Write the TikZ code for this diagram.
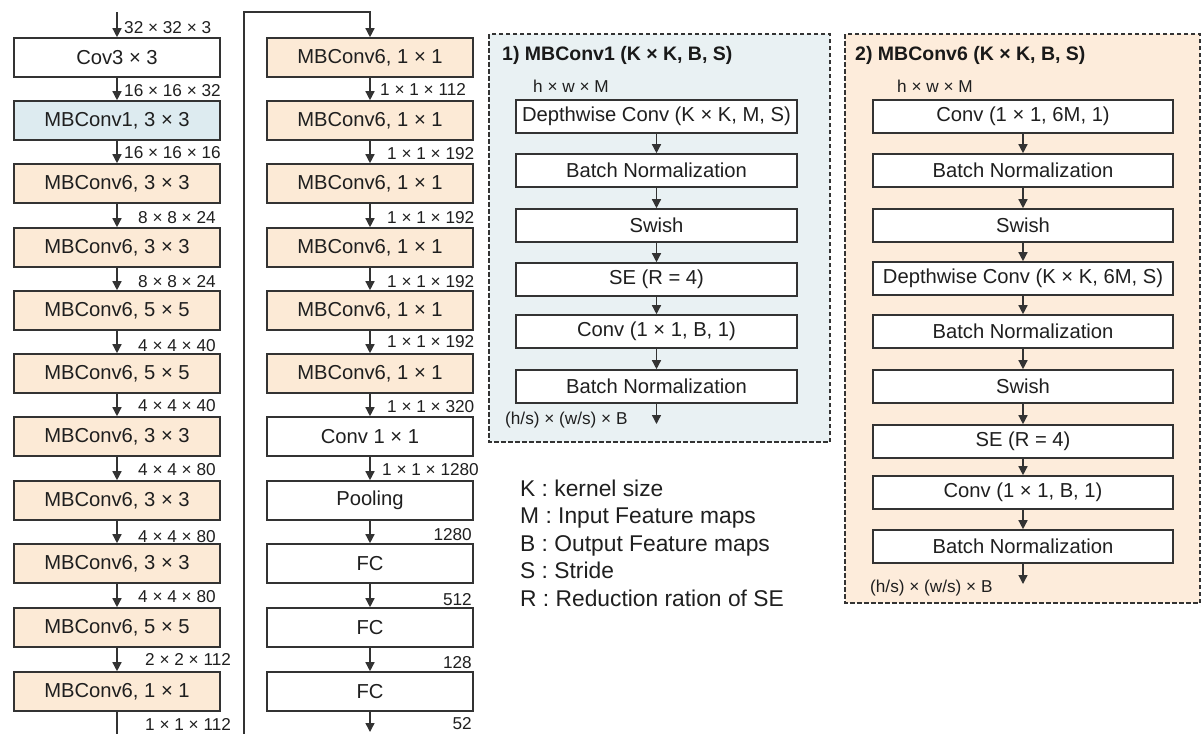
\documentclass[tikz,border=0pt]{standalone}
\usepackage{fontspec}
\setmainfont{Liberation Sans}
\usetikzlibrary{arrows.meta}
\definecolor{edge}{HTML}{333333}
\definecolor{peach}{HTML}{FCEAD6}
\definecolor{paleblue}{HTML}{DDEBF0}
\definecolor{panelblue}{HTML}{E9F1F3}
\definecolor{panelpeach}{HTML}{FDECDB}
\tikzset{
  blk/.style={draw=edge, line width=1.6pt, fill=white, inner sep=0pt,
    minimum width=206pt, minimum height=39pt, anchor=center,
    text=black!88, font=\fontsize{20.2}{22}\selectfont},
  pk/.style={blk, fill=peach},
  bl/.style={blk, fill=paleblue},
  sub/.style={blk, minimum width=281pt, minimum height=33pt},
  subw/.style={blk, minimum width=300pt, minimum height=33pt},
  dim/.style={inner sep=0pt, text=black!88, font=\fontsize{17.2}{19}\selectfont},
  ttl/.style={inner sep=0pt, anchor=west, text=black!90, font=\fontsize{19.5}{22}\selectfont\bfseries},
  arr/.style={draw=edge, line width=1.4pt, -{Triangle[length=9pt,width=9pt]}},
  panel/.style={draw=edge, line width=1.4pt, dash pattern=on 4.5pt off 2.5pt},
}
\begin{document}
\begin{tikzpicture}[x=1pt,y=-1pt]
\useasboundingbox (0,0) rectangle (1203,734);
\clip (0,0) rectangle (1203,734);

% ---- left column ----
\node[blk] (L1)  at (117,57.5)  {Cov3 × 3};
\node[bl]  (L2)  at (117,120.5) {MBConv1, 3 × 3};
\node[pk]  (L3)  at (117,183.5) {MBConv6, 3 × 3};
\node[pk]  (L4)  at (117,247.5) {MBConv6, 3 × 3};
\node[pk]  (L5)  at (117,310.5) {MBConv6, 5 × 5};
\node[pk]  (L6)  at (117,373.5) {MBConv6, 5 × 5};
\node[pk]  (L7)  at (117,436.5) {MBConv6, 3 × 3};
\node[pk]  (L8)  at (117,500.5) {MBConv6, 3 × 3};
\node[pk]  (L9)  at (117,563.5) {MBConv6, 3 × 3};
\node[pk]  (L10) at (117,627.5) {MBConv6, 5 × 5};
\node[pk]  (L11) at (117,691.5) {MBConv6, 1 × 1};

\coordinate (Lin) at (117,12);
\draw[arr] (Lin) -- (L1);
\foreach \a/\b in {L1/L2,L2/L3,L3/L4,L4/L5,L5/L6,L6/L7,L7/L8,L8/L9,L9/L10,L10/L11}
  \draw[arr] (\a) -- (\b);

\node[dim,anchor=west] (d0)  at (124,28)  {32 × 32 × 3};
\node[dim,anchor=west] (d1)  at (124,91)  {16 × 16 × 32};
\node[dim,anchor=west] (d2)  at (124,153) {16 × 16 × 16};
\node[dim,anchor=west] (d3)  at (138,218) {8 × 8 × 24};
\node[dim,anchor=west] (d4)  at (138,282) {8 × 8 × 24};
\node[dim,anchor=west] (d5)  at (138,346) {4 × 4 × 40};
\node[dim,anchor=west] (d6)  at (138,406) {4 × 4 × 40};
\node[dim,anchor=west] (d7)  at (138,470) {4 × 4 × 80};
\node[dim,anchor=west] (d8)  at (138,537) {4 × 4 × 80};
\node[dim,anchor=west] (d9)  at (138,597) {4 × 4 × 80};
\node[dim,anchor=west] (d10) at (145,659) {2 × 2 × 112};
\node[dim,anchor=west] (d11) at (145,724) {1 × 1 × 112};

% ---- middle column ----
\node[pk]  (M1)  at (370,57.5)  {MBConv6, 1 × 1};
\node[pk]  (M2)  at (370,120.5) {MBConv6, 1 × 1};
\node[pk]  (M3)  at (370,183.5) {MBConv6, 1 × 1};
\node[pk]  (M4)  at (370,247.5) {MBConv6, 1 × 1};
\node[pk]  (M5)  at (370,310.5) {MBConv6, 1 × 1};
\node[pk]  (M6)  at (370,373.5) {MBConv6, 1 × 1};
\node[blk] (M7)  at (370,436.5) {Conv 1 × 1};
\node[blk] (M8)  at (370,500.5) {Pooling};
\node[blk] (M9)  at (370,563.5) {FC};
\node[blk] (M10) at (370,627.5) {FC};
\node[blk] (M11) at (370,691.5) {FC};

\foreach \a/\b in {M1/M2,M2/M3,M3/M4,M4/M5,M5/M6,M6/M7,M7/M8,M8/M9,M9/M10,M10/M11}
  \draw[arr] (\a) -- (\b);
\coordinate (Mout) at (370,732);
\draw[arr] (M11) -- (Mout);

% loop from the bottom of the left column to the top of the middle one
\coordinate (lbot) at (117,760);
\coordinate (rbot) at (244,760);
\coordinate (rtop) at (244,12);
\coordinate (mtop) at (370,12);
\draw[arr] (L11.south) -- (lbot) -- (rbot) -- (rtop) -- (mtop) -- (M1);

\node[dim,anchor=west] (e1)  at (380,89)  {1 × 1 × 112};
\node[dim,anchor=west] (e2)  at (387,154) {1 × 1 × 192};
\node[dim,anchor=west] (e3)  at (387,218) {1 × 1 × 192};
\node[dim,anchor=west] (e4)  at (387,282) {1 × 1 × 192};
\node[dim,anchor=west] (e5)  at (387,342) {1 × 1 × 192};
\node[dim,anchor=west] (e6)  at (387,407) {1 × 1 × 320};
\node[dim,anchor=west] (e7)  at (382,470) {1 × 1 × 1280};
\node[dim,anchor=east] (e8)  at (472,535) {1280};
\node[dim,anchor=east] (e9)  at (472,600) {512};
\node[dim,anchor=east] (e10) at (472,663) {128};
\node[dim,anchor=east] (e11) at (472,724) {52};

% ---- panel 1: MBConv1 ----
\draw[panel, fill=panelblue] (489,34) rectangle (830,442);
\node[ttl] (t1) at (502,55) {1) MBConv1 (K × K, B, S)};
\node[dim,anchor=west] (p1in) at (533,86) {h × w × M};
\node[sub] (A1) at (656.5,116.5) {Depthwise Conv (K × K, M, S)};
\node[sub] (A2) at (656.5,170.5) {Batch Normalization};
\node[sub] (A3) at (656.5,225.5) {Swish};
\node[sub] (A4) at (656.5,279.5) {SE (R = 4)};
\node[sub] (A5) at (656.5,331.5) {Conv (1 × 1, B, 1)};
\node[sub] (A6) at (656.5,386.5) {Batch Normalization};
\foreach \a/\b in {A1/A2,A2/A3,A3/A4,A4/A5,A5/A6}
  \draw[arr] (\a) -- (\b);
\coordinate (Aout) at (656.5,424);
\draw[arr] (A6) -- (Aout);
\node[dim,anchor=west] (p1out) at (505,420) {(h/s) × (w/s) × B};

% ---- panel 2: MBConv6 ----
\draw[panel, fill=panelpeach] (845,34) rectangle (1200,603);
\node[ttl] (t2) at (855,55) {2) MBConv6 (K × K, B, S)};
\node[dim,anchor=west] (p2in) at (897,86) {h × w × M};
\node[subw] (B1) at (1023,116.5) {Conv (1 × 1, 6M, 1)};
\node[subw] (B2) at (1023,170.5) {Batch Normalization};
\node[subw] (B3) at (1023,225.5) {Swish};
\node[subw] (B4) at (1023,278.5) {Depthwise Conv (K × K, 6M, S)};
\node[subw] (B5) at (1023,331.5) {Batch Normalization};
\node[subw] (B6) at (1023,386.5) {Swish};
\node[subw] (B7) at (1023,441.5) {SE (R = 4)};
\node[subw] (B8) at (1023,492.5) {Conv (1 × 1, B, 1)};
\node[subw] (B9) at (1023,546.5) {Batch Normalization};
\foreach \a/\b in {B1/B2,B2/B3,B3/B4,B4/B5,B5/B6,B6/B7,B7/B8,B8/B9}
  \draw[arr] (\a) -- (\b);
\coordinate (Bout) at (1023,584);
\draw[arr] (B9) -- (Bout);
\node[dim,anchor=west] (p2out) at (870,588) {(h/s) × (w/s) × B};

% ---- legend ----
\node[inner sep=0pt, anchor=west, align=left, text=black!88,
  font=\fontsize{22.8}{27.5}\selectfont] (legend) at (520,543)
  {K : kernel size\\ M : Input Feature maps\\ B : Output Feature maps\\ S : Stride\\ R : Reduction ration of SE};
\end{tikzpicture}
\end{document}
